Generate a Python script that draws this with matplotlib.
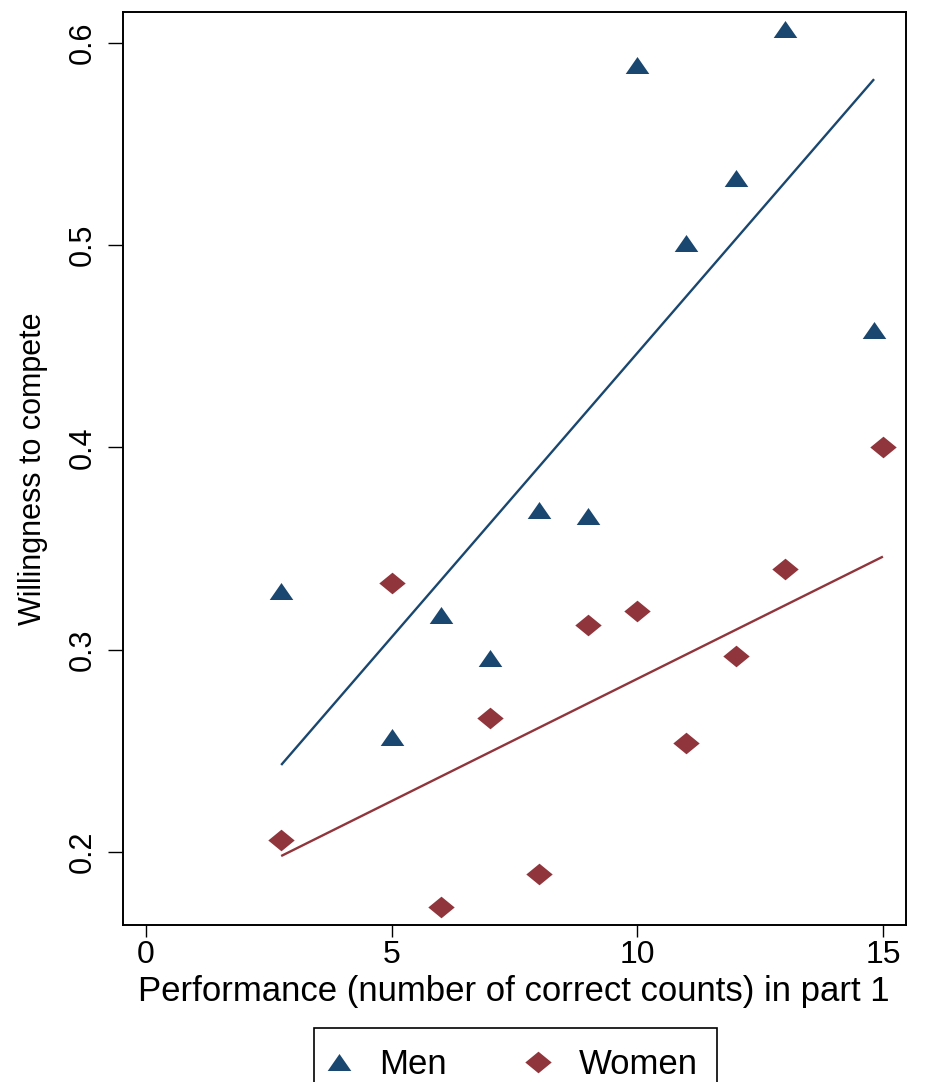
import matplotlib
matplotlib.use('Agg')
import matplotlib.pyplot as plt
import numpy


# Data
menPerformance = [2.75, 5, 6, 7, 8, 9, 10, 11, 12, 13, 14.82]
menWillingness = [0.329, 0.257, 0.317, 0.296, 0.369, 0.366, 0.589, 0.501, 0.533, 0.607, 0.458]

womenPerformance = [2.75, 5, 6, 7, 8, 9, 10, 11, 12, 13, 15]
womenWillingness = [0.206, 0.333, 0.173, 0.266, 0.189, 0.312, 0.319, 0.254, 0.297, 0.340, 0.400]

# Linear fit lines (end points as drawn in the reference)
menFitX = [2.75, 14.82]
menFitY = [0.243, 0.582]
womenFitX = [2.75, 15.0]
womenFitY = [0.198, 0.346]

xTicks = [0, 5, 10, 15]
yTicks = [0.2, 0.3, 0.4, 0.5, 0.6]
yTickLabels = ['0.2', '0.3', '0.4', '0.5', '0.6']

# Style
NAVY = '#1a476f'
MAROON = '#90353b'
TRIANGLE = [(0, 0.72), (-1, -0.72), (1, -0.72), (0, 0.72)]
DIAMOND = [(0, 0.82), (1, 0), (0, -0.82), (-1, 0), (0, 0.82)]

plt.rcParams['font.family'] = ['Liberation Sans', 'DejaVu Sans']

fig = plt.figure(figsize=(9.3, 10.82), dpi=100)
ax = fig.add_axes([123 / 930, 1 - 925 / 1082, (906 - 123) / 930, (925 - 12) / 1082])

# Fit lines
ax.plot(menFitX, menFitY, color=NAVY, linewidth=1.7, solid_capstyle='butt')
ax.plot(womenFitX, womenFitY, color=MAROON, linewidth=1.7, solid_capstyle='butt')

# Scatter points
menHandle, = ax.plot(menPerformance, menWillingness, linestyle='none', marker=TRIANGLE,
                     markersize=17, color=NAVY, markeredgewidth=0, label='Men')
womenHandle, = ax.plot(womenPerformance, womenWillingness, linestyle='none', marker=DIAMOND,
                       markersize=19, color=MAROON, markeredgewidth=0, label='Women')

ax.set_xlim(-0.47, 15.47)
ax.set_ylim(0.1639, 0.6152)

ax.set_xticks(xTicks)
ax.set_yticks(yTicks)
ax.set_yticklabels(yTickLabels)

ax.tick_params(axis='x', labelsize=23, length=8.6, width=1.0, pad=2, direction='out')
ax.tick_params(axis='y', labelsize=22, length=10.5, width=1.0, pad=8, direction='out')
plt.setp(ax.get_yticklabels(), rotation=90, va='center', ha='right')

for spine in ax.spines.values():
    spine.set_linewidth(1.4)
    spine.set_color('black')

ax.set_xlabel('Performance (number of correct counts) in part 1', fontsize=25, va='top')
ax.xaxis.set_label_coords(0.4985, -0.055)
ax.set_ylabel('Willingness to compete', fontsize=22)
ax.yaxis.set_label_coords(-0.096, 0.5)

legend = fig.legend([menHandle, womenHandle], ['Men', 'Women'], loc='upper center',
                    bbox_to_anchor=(515.5 / 930, 1 - 1028 / 1082), ncol=2, fontsize=25,
                    frameon=True, fancybox=False, edgecolor='black', framealpha=1,
                    borderpad=0.57, handlelength=0.3, handletextpad=1.0,
                    columnspacing=2.5, borderaxespad=0)
legend.get_frame().set_linewidth(1.2)

fig.savefig('out.png', dpi=100)
